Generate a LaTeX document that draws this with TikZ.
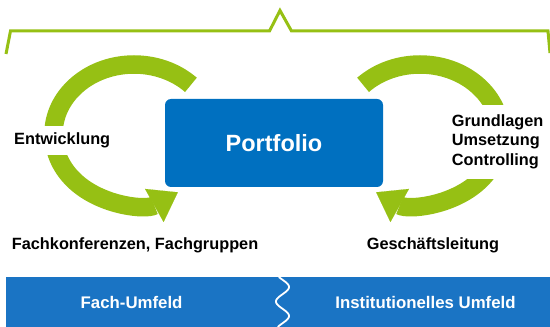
\documentclass[tikz,border=0pt]{standalone}
\usepackage{fontspec}
\setmainfont{Liberation Sans}
\usetikzlibrary{arrows.meta}

\definecolor{leaf}{RGB}{150,192,20}
\definecolor{portblue}{RGB}{0,112,192}
\definecolor{bandblue}{RGB}{26,116,196}

\begin{document}
\begin{tikzpicture}[x=1pt, y=1pt,
	lbl/.style={font=\bfseries\fontsize{16.3}{19.5}\selectfont, inner sep=0pt},
	gap/.style={lbl, fill=white, inner xsep=2pt, inner ysep=7pt},
	cycle/.style={draw=leaf, line width=18.5pt, -{Triangle[length=27pt, width=38pt, line width=0.1pt]}},
	bandtxt/.style={font=\bfseries\fontsize{16.8}{20}\selectfont, text=white, inner sep=0pt}]
	\useasboundingbox (0,0) rectangle (550,327);

	% bracket over the whole
	\draw[leaf, line width=3pt] (6,273) -- (10.5,296) -- (269.5,296) -- (280,316.5) -- (291.5,296) -- (548,296) -- (550,274);

	\node[fill=portblue, text=white, rounded corners=6pt, minimum width=218pt, minimum height=88pt,
		font=\bfseries\fontsize{23.5}{28}\selectfont] (portfolio) at (274,184) {Portfolio};

	% the two cycles
	\draw[cycle] (134,193) ++(45:80.5 and 69.5) arc[start angle=45, end angle=303, x radius=80.5, y radius=69.5];
	\draw[cycle] (420,193) ++(135:80.5 and 69.5) arc[start angle=135, end angle=-123, x radius=80.5, y radius=69.5];

	\node[gap, anchor=base west] (entw) at (12,182) {Entwicklung};
	\node[gap, anchor=west, align=left, inner ysep=10pt] (ziele) at (449.7,185.2) {Grundlagen\\Umsetzung\\Controlling};
	\node[lbl, anchor=base west] (fachk) at (11.7,77) {Fachkonferenzen, Fachgruppen};
	\node[lbl, anchor=base west] (leitung) at (366.7,77) {Geschäftsleitung};

	% band at the bottom
	\node[fill=bandblue, minimum width=544pt, minimum height=50pt, inner sep=0pt] (band) at (278,25) {};
	\draw[white, line width=1.8pt] plot[domain=0:50, samples=60, smooth, variable=\t] ({282.5+6.5*cos(360*(\t-40)/29)}, \t);
	\node[bandtxt, anchor=base] (fach) at (131.6,18) {Fach-Umfeld};
	\node[bandtxt, anchor=base] (inst) at (425.5,18) {Institutionelles Umfeld};
\end{tikzpicture}
\end{document}
